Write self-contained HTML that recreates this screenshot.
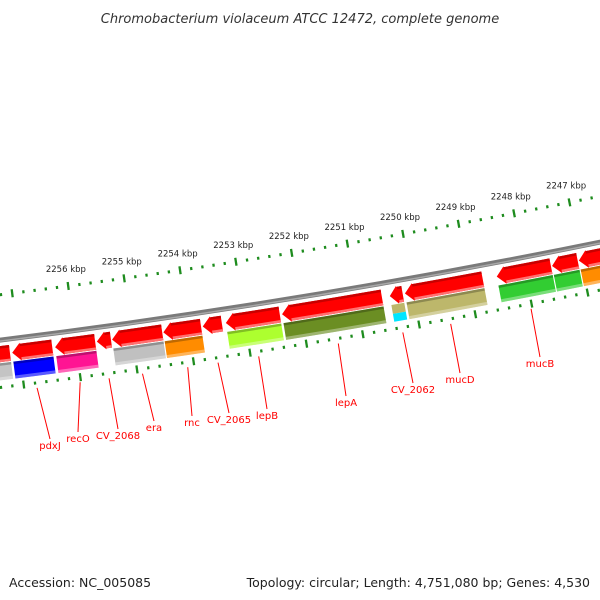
<!DOCTYPE html>
<html><head><meta charset="utf-8"><style>
html,body{margin:0;padding:0;background:#fff;}
svg{display:block;font-family:"DejaVu Sans","Liberation Sans",sans-serif;}
</style></head><body>
<svg id="c" width="600" height="600" viewBox="0 0 600 600">
<text x="300" y="23" text-anchor="middle" font-size="13" font-style="italic" fill="#333">Chromobacterium violaceum ATCC 12472, complete genome</text>
<text x="9" y="587" font-size="12.5" fill="#222">Accession: NC_005085</text>
<text x="590" y="587" text-anchor="end" font-size="12.5" fill="#222">Topology: circular; Length: 4,751,080 bp; Genes: 4,530</text>
<g id="layer"></g>
</svg>
<script>
// gene data (kbp)
const geneStart = [2257.17,2256.42,2255.66,2255.38,2254.47,2253.78,2253.41,2252.38,2250.56,2250.19,2248.76,2247.54,2247.06,2245.95];
const geneEnd   = [2258.06,2257.13,2256.37,2255.63,2255.36,2254.45,2253.75,2253.34,2252.34,2250.42,2250.15,2248.51,2247.52,2247.04];
const geneName  = ["","pdxJ","recO","CV_2068","era","rnc","CV_2065","lepB","lepA","CV_2062","mucD","mucB","",""];
const geneCog   = ["#c4c4c4","#0000ff","#ff1493","","#c0c0c0","#ff8c00","","#adff2f","#6b8e23","#00e5ff","#bdb76b","#32cd32","#32cd32","#ff8c00"];
const tickKbp   = [2258,2257,2256,2255,2254,2253,2252,2251,2250,2249,2248,2247,2246];
const tickLabels= ["2258 kbp","2257 kbp","2256 kbp","2255 kbp","2254 kbp","2253 kbp","2252 kbp","2251 kbp","2250 kbp","2249 kbp","2248 kbp","2247 kbp","2246 kbp"];
// label layout (text anchor points)
const labelX = [0,50,78,118,154,192,229,267,346,413,460,540,0,0];
const labelY = [0,449,442,439,431,426,423,419,406,393,383,367,0,0];

const cx=-957, cy=-7406, Rb=7805, A0=0.1325, K=0.007278;
const NS="http://www.w3.org/2000/svg";
const layer=document.getElementById('layer');
function pt(p,r){const a=A0+(2256-p)*K;return [cx+r*Math.sin(a), cy+r*Math.cos(a)];}
function f(v){return v[0].toFixed(2)+','+v[1].toFixed(2);}
function mk(tag,attrs){const e=document.createElementNS(NS,tag);for(const k in attrs)e.setAttribute(k,attrs[k]);layer.appendChild(e);return e;}
function seg(pL,pR,r1,r2){
  return 'M'+f(pt(pL,r1))+' A'+r1+' '+r1+' 0 0 0 '+f(pt(pR,r1))+' L'+f(pt(pR,r2))+' A'+r2+' '+r2+' 0 0 1 '+f(pt(pL,r2))+' Z';
}
function arrow(pL,pR,r1,r2){
  const h=Math.min(0.15,(pL-pR)*0.6), rm=(r1+r2)/2;
  return 'M'+f(pt(pL,rm))+' L'+f(pt(pL-h,r1-1))+' L'+f(pt(pL-h,r1))+' A'+r1+' '+r1+' 0 0 0 '+f(pt(pR,r1))+' L'+f(pt(pR,r2))+' A'+r2+' '+r2+' 0 0 1 '+f(pt(pL-h,r2))+' L'+f(pt(pL-h,r2+1))+' Z';
}
function arcLine(p1,p2,r){return 'M'+f(pt(p1,r))+' A'+r+' '+r+' 0 0 0 '+f(pt(p2,r));}

let e;
e=mk('path',{d:arcLine(2259,2245,Rb),fill:'none',stroke:'#7a7a7a','stroke-width':5});


e=mk('path',{d:arcLine(2259,2245,Rb+1),fill:'none',stroke:'#a8a8a8','stroke-width':1.5});



// outer tick ring
const Ro=Rb-45;
for(let i=0;i<=75;i++){
  const p=2259-i*0.2;
  const isMajor=(i%5)===0;
  const len=isMajor?8:3;
  e=mk('path',{d:'M'+f(pt(p,Ro-len/2))+' L'+f(pt(p,Ro+len/2)),stroke:'#1e8c1e','stroke-width':2.3});
  
  
}
tickKbp.forEach((p,i)=>{
  const q=pt(p,Ro-17);
  if(q[0]<20||q[0]>600)return;
  e=mk('text',{x:q[0].toFixed(1),y:(q[1]+3).toFixed(1),'text-anchor':'middle','font-size':8.5,fill:'#222'});
  e.textContent=tickLabels[i];
  
  
});

// inner tick ring
const Ri=Rb+47;
for(let i=0;i<=75;i++){
  const p=2259-i*0.2;
  const isMajor=(i%5)===0;
  const len=isMajor?8:3;
  e=mk('path',{d:'M'+f(pt(p,Ri-len/2))+' L'+f(pt(p,Ri+len/2)),stroke:'#1e8c1e','stroke-width':2.3});
  
  
}

// genes
for(let i=0;i<geneStart.length;i++){
  const pL=geneEnd[i], pR=geneStart[i];
  e=mk('path',{d:arrow(pL,pR,Rb+6,Rb+22),fill:'#ff0000'});
  
  
  e=mk('path',{d:seg(pL-0.15,pR,Rb+6,Rb+8.5),fill:'#c80000'});
  
  
  e=mk('path',{d:seg(pL-0.15,pR,Rb+19.5,Rb+22),fill:'#ff7070'});
  
  
  if(geneCog[i]){
    if(i===9){
      e=mk('path',{d:seg(pL,pR,Rb+23,Rb+32),fill:'#bdb76b'});
      
      
      e=mk('path',{d:seg(pL,pR,Rb+32,Rb+40),fill:geneCog[i]});
      
      
    } else {
      e=mk('path',{d:seg(pL,pR,Rb+23,Rb+40),fill:geneCog[i]});
      
      
      e=mk('path',{d:seg(pL,pR,Rb+23,Rb+25.5),fill:'rgba(0,0,0,0.25)'});
      
      
      e=mk('path',{d:seg(pL,pR,Rb+37,Rb+40),fill:'rgba(255,255,255,0.35)'});
      
      
    }
  }
  if(geneName[i]){
    const top=pt((pL+pR)/2,Rb+52);
    e=mk('path',{d:'M'+f(top)+' L'+labelX[i]+','+(labelY[i]-10),stroke:'#ff0000','stroke-width':1});
    
    
    e=mk('text',{x:labelX[i],y:labelY[i],'text-anchor':'middle','font-size':10,fill:'#ff0000'});
    e.textContent=geneName[i];
    
    
  }
}
</script>
</body></html>
